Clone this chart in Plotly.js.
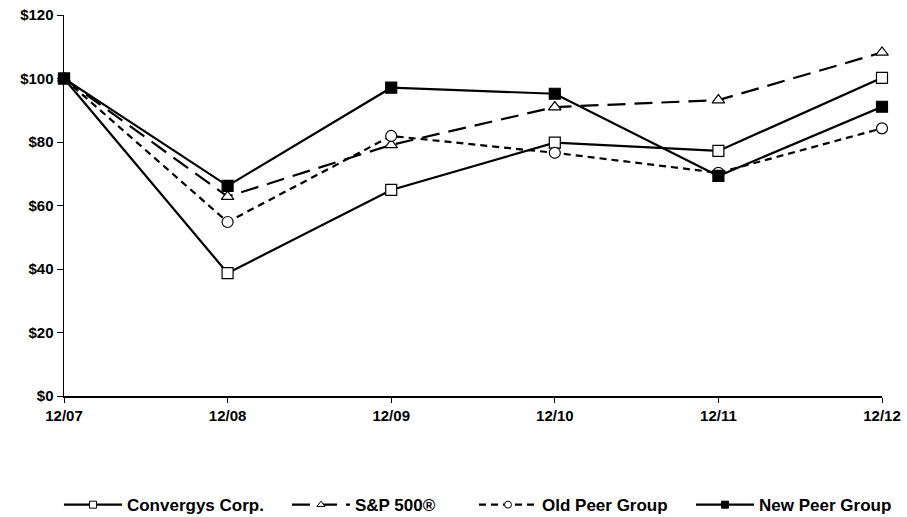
<!DOCTYPE html>
<html>
<head>
<meta charset="utf-8">
<script src="https://cdn.plot.ly/plotly-3.0.1.min.js"></script>
<style>html,body{margin:0;padding:0;background:#fff;}#chart{width:907px;height:517px;}</style>
</head>
<body>
<div id="chart"></div>
<script>
const categories = ["12/07", "12/08", "12/09", "12/10", "12/11", "12/12"];
const convergys = [100, 38.7, 64.9, 79.8, 77.2, 100.2];
const sp500 = [100, 62.8, 79.1, 91.0, 93.2, 108.2];
const oldPeer = [100, 54.8, 81.9, 76.6, 70.3, 84.3];
const newPeer = [100, 66.2, 97.1, 95.2, 69.3, 91.1];
const seriesNames = ["Convergys Corp.", "S&P 500®", "Old Peer Group", "New Peer Group"];
const yTickVals = [0, 20, 40, 60, 80, 100, 120];
const yTickText = ["$0", "$20", "$40", "$60", "$80", "$100", "$120"];

const styles = [
  {dash: "solid", symbol: "square", fill: "#fff"},
  {dash: "18px,9px", symbol: "triangle-up", fill: "#fff"},
  {dash: "7px,5px", symbol: "circle", fill: "#fff"},
  {dash: "solid", symbol: "square", fill: "#000"}
];
const values = [convergys, sp500, oldPeer, newPeer];
const legendIds = ["legend", "legend2", "legend3", "legend4"];
const legendX = [0.065, 0.3164, 0.5226, 0.7619];

const data = [];
values.forEach(function (y, i) {
  const s = styles[i];
  data.push({
    x: categories, y: y, name: seriesNames[i], type: "scatter", mode: "lines+markers",
    showlegend: false,
    line: {color: "#000", width: 2.2, dash: s.dash},
    marker: {symbol: s.symbol, size: 11, color: s.fill, line: {color: "#000", width: 1.2}},
    cliponaxis: false
  });
});
// legend entries (smaller markers, as in the original legend)
values.forEach(function (y, i) {
  const s = styles[i];
  data.push({
    x: [null], y: [null], name: seriesNames[i], type: "scatter", mode: "lines+markers",
    showlegend: true, legend: legendIds[i],
    line: {color: "#000", width: 2.2, dash: s.dash},
    marker: {symbol: s.symbol, size: 7, color: s.fill, line: {color: "#000", width: 1}}
  });
});

const boldFont = {size: 15, family: "'Liberation Sans', Arial, sans-serif", weight: "bold", color: "#000"};

const layout = {
  width: 907, height: 517,
  margin: {l: 64, r: 25, t: 15, b: 121, autoexpand: false},
  paper_bgcolor: "#fff", plot_bgcolor: "#fff",
  font: {family: "'Liberation Sans', Arial, sans-serif", color: "#000"},
  showlegend: true,
  xaxis: {
    type: "category", range: [0, 5], showgrid: false, zeroline: false,
    showline: true, linecolor: "#000", linewidth: 1.5,
    ticks: "outside", ticklen: 5, tickcolor: "#000",
    tickfont: boldFont
  },
  yaxis: {
    range: [0, 120], tickvals: yTickVals, ticktext: yTickText,
    showgrid: false, zeroline: false, showline: true, linecolor: "#000", linewidth: 1.5,
    ticks: "outside", ticklen: 6, tickcolor: "#000",
    tickfont: boldFont
  }
};
legendIds.forEach(function (id, i) {
  layout[id] = {
    orientation: "h", xref: "container", yref: "container",
    x: legendX[i], xanchor: "left", y: 0.023, yanchor: "middle",
    font: {size: 17, family: "'Liberation Sans', Arial, sans-serif", weight: "bold", color: "#000"},
    itemwidth: 58, bgcolor: "rgba(0,0,0,0)"
  };
});

Plotly.newPlot("chart", data, layout, {displayModeBar: false, staticPlot: true});
</script>
</body>
</html>
